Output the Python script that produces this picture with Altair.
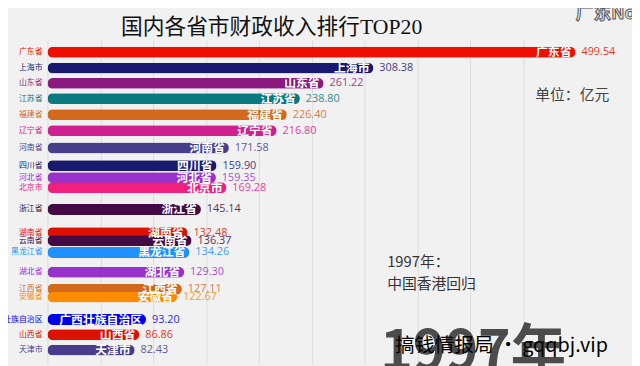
import altair as alt
import pandas as pd

names = ["广东省", "上海市", "山东省", "江苏省", "福建省", "辽宁省", "河南省", "四川省",
         "河北省", "北京市", "浙江省", "湖南省", "云南省", "黑龙江省", "湖北省", "江西省",
         "安徽省", "广西壮族自治区", "山西省", "天津市"]
values = [499.54, 308.38, 261.22, 238.80, 226.40, 216.80, 171.58, 159.90, 159.35, 169.28,
          145.14, 132.48, 136.37, 134.26, 129.30, 127.11, 122.67, 93.20, 86.86, 82.43]
# animated rank positions (frame of a bar race)
positions = [1.0, 2.01, 2.99, 3.96, 4.98, 6.0, 7.1, 8.23, 8.99, 9.63, 11.02, 12.5, 13.0,
             13.76, 15.02, 16.1, 16.6, 18.03, 19.0, 19.98]
colors = ["#ef0f00", "#191970", "#8a1a7e", "#0b7a80", "#d2691e", "#d02090", "#483d8b",
          "#191970", "#9932cc", "#f0207f", "#430a43", "#dd1100", "#430a43", "#1e90ff",
          "#9932cc", "#d2691e", "#ff8c00", "#0000ee", "#dd1100", "#483d8b"]
grid_values = [0, 50, 100, 150, 200, 250, 300, 350, 400, 450]

title_text = "国内各省市财政收入排行TOP20"
unit_text = "单位：亿元"
corner_text = "广东No.1"
event_year = "1997年："
event_text = "中国香港回归"
big_year = "1997年"
watermark = "搞钱情报局 · gqqbj.vip"

df = pd.DataFrame({"name": names, "value": values, "pos": positions})

CJK = "Noto Sans CJK SC"

color_enc = alt.Color("name:N", scale=alt.Scale(domain=names, range=colors), legend=None)
y_enc = alt.Y("pos:Q", scale=alt.Scale(domain=[0.53, 20.53], reverse=True, nice=False,
                                       zero=False), axis=None)
x_enc = alt.X("value:Q", scale=alt.Scale(domain=[0, 553], nice=False, zero=True),
              axis=alt.Axis(values=grid_values, grid=True, labels=False, ticks=False,
                            domain=False, title=None, gridColor="#dcdcdc", gridWidth=1))

base = alt.Chart(df).encode(y=y_enc)

bars = base.mark_bar(orient="horizontal", size=11, cornerRadius=5.5).encode(
    x=x_enc, color=color_enc)

inner = base.mark_text(align="right", baseline="middle", dx=-4, color="white",
                       fontSize=12, fontWeight="bold", font=CJK).encode(
    x="value:Q", text="name:N")

vals = base.mark_text(align="left", baseline="middle", dx=6, fontSize=11,
                      font="Open Sans", opacity=0.85).encode(
    x="value:Q", text=alt.Text("value:Q", format=".2f"), color=color_enc)

left = base.mark_text(align="right", baseline="middle", fontSize=8, font=CJK).encode(
    x=alt.value(-5), text="name:N", color=color_enc)


def note(text, x, y, **kw):
    return alt.Chart(pd.DataFrame({"t": [text]})).mark_text(**kw).encode(
        x=alt.value(x), y=alt.value(y), text="t:N")


title = note(title_text, 227, -13, align="center", baseline="middle", fontSize=22,
             font="Liberation Serif, " + CJK, fontWeight="normal", color="#111111")
unit = note(unit_text, 494, 56, align="left", baseline="middle", fontSize=15,
            font=CJK, color="#444444")
corner = note(corner_text, 535, -26, align="left", baseline="middle", fontSize=18,
              font=CJK, fontWeight="bold", color="#eeeeee", stroke="#555555",
              strokeWidth=1)
ev1 = note(event_year, 344, 225, align="left", baseline="middle", fontSize=15,
           font=CJK, color="#333333")
ev2 = note(event_text, 344, 247, align="left", baseline="middle", fontSize=15,
           font=CJK, color="#333333")
year = note(big_year, 337, 334, align="left", baseline="alphabetic", fontSize=56,
            font=CJK, fontWeight="bold", color="#444444", opacity=0.95)
wm = note(watermark, 352, 310, align="left", baseline="middle", fontSize=20,
          font=CJK, color="#000000")

chart = alt.layer(bars, inner, vals, left, title, unit, corner, ev1, ev2, year, wm).properties(
    width=592, height=328,
    autosize=alt.AutoSizeParams(type="none"),
    padding={"left": 40, "top": 30, "right": 0, "bottom": 0},
    background="#f1f1f1",
).configure_view(stroke=None)

chart.save("out.html", embed_options={"renderer": "svg", "actions": False})
